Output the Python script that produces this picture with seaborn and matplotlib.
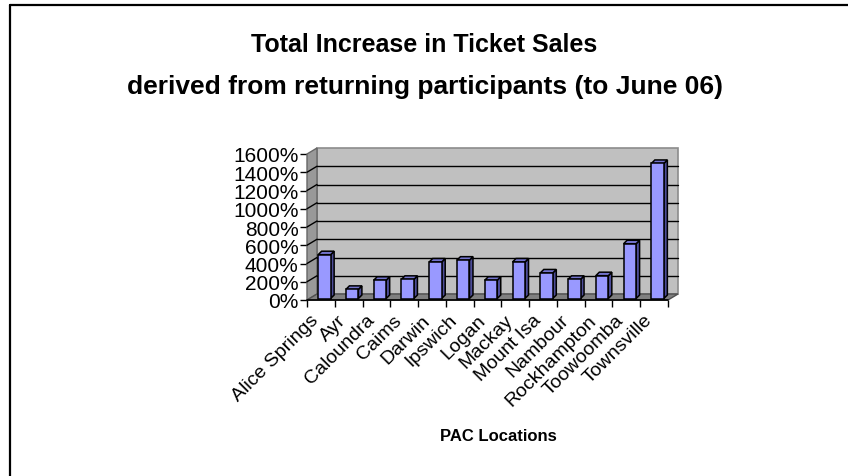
import numpy as np
import pandas as pd
import matplotlib
matplotlib.use("Agg")
import matplotlib.pyplot as plt
import matplotlib.transforms as mtransforms
from matplotlib.patches import Polygon
from matplotlib.lines import Line2D
import seaborn as sns

# ---- data ----
locations = ["Alice Springs", "Ayr", "Caloundra", "Caims", "Darwin", "Ipswich",
             "Logan", "Mackay", "Mount Isa", "Nambour", "Rockhampton",
             "Toowoomba", "Townsville"]
increase_pct = [480, 100, 200, 210, 400, 420, 200, 400, 280, 210, 250, 600, 1480]
y_ticks = [0, 200, 400, 600, 800, 1000, 1200, 1400, 1600]
y_tick_labels = [f"{v}%" for v in y_ticks]
title_line1 = "Total Increase in Ticket Sales"
title_line2 = "derived from returning participants (to June 06)"
x_title = "PAC Locations"

sns.set_theme(style="white")
plt.rcParams["font.family"] = ["Liberation Sans", "DejaVu Sans"]

W, H, DPI = 848, 477, 100
fig = plt.figure(figsize=(W / DPI, H / DPI), dpi=DPI)
fig.patch.set_facecolor("white")

# front plane: x from 307 to 668 px, y from 301 (0%) to 155 (1600%) px (from top)
ax = fig.add_axes([307 / W, (H - 301) / H, 361 / W, 146 / H])
ax.set_facecolor("none")

df = pd.DataFrame({"location": locations, "increase": increase_pct})
sns.barplot(data=df, x="location", y="increase", order=locations,
            color="#9999FF", saturation=1, width=0.45,
            edgecolor="black", linewidth=1.1, ax=ax, zorder=5)
ax.set_xlim(-0.5, len(locations) - 0.5)
ax.set_ylim(0, 1600)
for s in ax.spines.values():
    s.set_visible(False)

ident = mtransforms.IdentityTransform()


def disp(x, y, dx=0.0, dy=0.0):
    p = ax.transData.transform((x, y))
    return (p[0] + dx, p[1] + dy)


def poly(pts, fc, ec, lw=1.0, z=1):
    ax.add_patch(Polygon(pts, closed=True, facecolor=fc, edgecolor=ec,
                         linewidth=lw, transform=ident, clip_on=False, zorder=z))


def line(p0, p1, color="black", lw=1.0, z=1.5):
    ax.add_line(Line2D([p0[0], p1[0]], [p0[1], p1[1]], color=color, lw=lw,
                       transform=ident, clip_on=False, zorder=z))


x0, x1 = -0.5, len(locations) - 0.5
ytop = y_ticks[-1]
WX, WY = 10, 6  # wall depth in px

# back wall
poly([disp(x0, 0, WX, WY), disp(x1, 0, WX, WY), disp(x1, ytop, WX, WY), disp(x0, ytop, WX, WY)],
     "#C0C0C0", "#8C8C8C", 1.2, 0.5)
# side wall
poly([disp(x0, 0), disp(x0, ytop), disp(x0, ytop, WX, WY), disp(x0, 0, WX, WY)],
     "#999999", "#666666", 1.0, 0.6)
# gridlines
for v in y_ticks[1:-1]:
    line(disp(x0, v, WX, WY), disp(x1, v, WX, WY), "black", 1.0, 0.7)
    line(disp(x0, v), disp(x0, v, WX, WY), "black", 1.0, 0.7)
# floor
poly([disp(x0, 0), disp(x1, 0), disp(x1, 0, WX, WY), disp(x0, 0, WX, WY)],
     "#808080", "#505050", 1.0, 0.8)
# front axis line
line(disp(x0, 0), disp(x1, 0), "black", 1.2, 6)

# bars 3D effect
BX, BY = 3.5, 1.5   # bar front offset
DX, DY = 3.5, 3.5   # bar depth
shift = mtransforms.ScaledTranslation(BX / DPI, BY / DPI, fig.dpi_scale_trans)
for p in ax.patches[:]:
    if not isinstance(p, matplotlib.patches.Rectangle):
        continue
    bx0 = p.get_x()
    bx1 = bx0 + p.get_width()
    h = p.get_height()
    poly([disp(bx1, 0, BX, BY), disp(bx1, h, BX, BY),
          disp(bx1, h, BX + DX, BY + DY), disp(bx1, 0, BX + DX, BY + DY)],
         "#4D4D99", "black", 1.1, 4)
    poly([disp(bx0, h, BX, BY), disp(bx1, h, BX, BY),
          disp(bx1, h, BX + DX, BY + DY), disp(bx0, h, BX + DX, BY + DY)],
         "#7373CC", "black", 1.1, 4)
    p.set_transform(ax.transData + shift)
    p.set_clip_on(False)

# ticks
ax.set_yticks(y_ticks)
ax.set_yticklabels(y_tick_labels, fontsize=15, color="black")
ax.tick_params(axis="y", length=5, width=1, color="black", direction="out", pad=1, left=True)

ax.set_xticks(np.arange(-0.5, len(locations), 1), minor=True)
ax.set_xticks(range(len(locations)))
ax.set_xticklabels(locations, fontsize=14, rotation=45, ha="right",
                   va="top", rotation_mode="anchor", color="black")
ax.tick_params(axis="x", which="major", length=0, pad=8)
ax.tick_params(axis="x", which="minor", length=5, width=1, color="black",
               direction="out", bottom=True)
lab_shift = mtransforms.ScaledTranslation(-11 / DPI, 0, fig.dpi_scale_trans)
for lbl in ax.get_xticklabels():
    lbl.set_transform(lbl.get_transform() + lab_shift)

ax.set_xlabel(x_title, fontsize=12, fontweight="bold", color="black")
ax.set_ylabel("")
ax.xaxis.set_label_coords((498 - 307) / 361, -(437 - 301) / 146)
ax.xaxis.label.set_va("center")

# titles
fig.text(424 / W, 1 - 45 / H, title_line1, ha="center", va="center",
         fontsize=18, fontweight="bold", color="black")
fig.text(425 / W, 1 - 87 / H, title_line2, ha="center", va="center",
         fontsize=19, fontweight="bold", color="black")

# chart frame (cut by the image edge)
fig.add_artist(Line2D([10 / W, 1.0], [1 - 6 / H, 1 - 6 / H], transform=fig.transFigure,
                      color="black", lw=1.6))
fig.add_artist(Line2D([10 / W, 10 / W], [0.0, 1 - 6 / H], transform=fig.transFigure,
                      color="black", lw=1.6))

fig.savefig("out.png", dpi=DPI)
